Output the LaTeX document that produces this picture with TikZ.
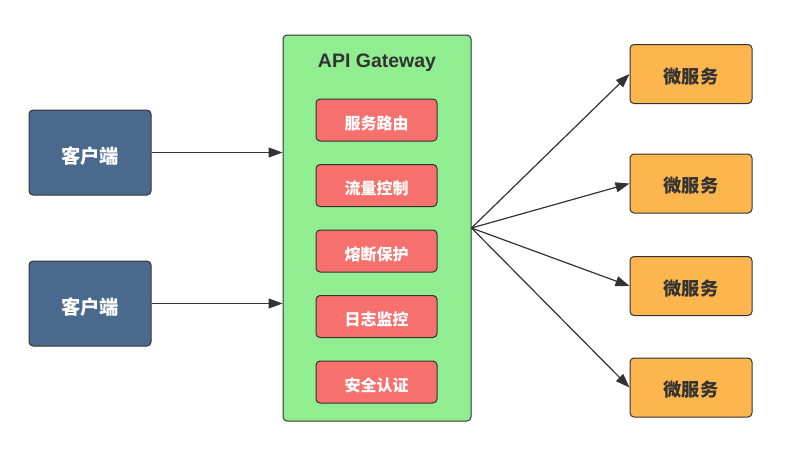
\documentclass[tikz,border=0pt]{standalone}
\usepackage{fontspec}
\setmainfont{Liberation Sans}
\newfontfamily\cjk{Noto Sans CJK SC}
\usetikzlibrary{arrows.meta}
\definecolor{edgegray}{HTML}{333333}
\definecolor{clientblue}{HTML}{4A6A8D}
\definecolor{gatewaygreen}{HTML}{90EE90}
\definecolor{modulered}{HTML}{F6716D}
\definecolor{serviceorange}{HTML}{FDB54D}
\tikzset{
  box/.style={draw=edgegray, line width=1pt, rounded corners=4pt, inner sep=0pt},
  % text height/depth set so the glyphs sit a little below the box centre
  client/.style={box, fill=clientblue, minimum width=122pt, minimum height=85pt,
    text height=22pt, text depth=0pt,
    text=white, font=\cjk\bfseries\fontsize{19.3}{22}\selectfont},
  gateway/.style={box, fill=gatewaygreen, minimum width=188pt, minimum height=386pt},
  module/.style={box, fill=modulered, minimum width=121pt, minimum height=42pt,
    text height=18.5pt, text depth=0pt,
    text=white, font=\cjk\bfseries\fontsize{16}{18}\selectfont},
  service/.style={box, fill=serviceorange, minimum width=122pt, minimum height=59pt,
    text height=18.5pt, text depth=0pt,
    text=edgegray, font=\cjk\bfseries\fontsize{18.2}{20}\selectfont},
  link/.style={draw=edgegray, line width=1.2pt, -{Triangle[length=14pt,width=10pt]}}
}
\begin{document}
\begin{tikzpicture}[x=1pt, y=-1pt]
\useasboundingbox (0,0) rectangle (790,448);

% clients
\node[client] (c1) at (90,152.5) {客户端};
\node[client] (c2) at (90,303.5) {客户端};

% gateway with its modules
\node[gateway] (gw) at (377,228) {};
\node[text=edgegray, font=\bfseries\fontsize{19.5}{22}\selectfont] (gwtitle) at (377,62.5) {API Gateway};
\node[module] (r1) at (376.5,120) {服务路由};
\node[module] (r2) at (376.5,185.5) {流量控制};
\node[module] (r3) at (376.5,251) {熔断保护};
\node[module] (r4) at (376.5,316.5) {日志监控};
\node[module] (r5) at (376.5,382) {安全认证};

% microservices
\node[service] (m1) at (691,74) {微服务};
\node[service] (m2) at (691,183.5) {微服务};
\node[service] (m3) at (691,286) {微服务};
\node[service] (m4) at (691,387.5) {微服务};

% requests into the gateway
\draw[link] (c1.east) -- (c1.east -| gw.west);
\draw[link] (c2.east) -- (c2.east -| gw.west);

% fan-out to the services
\foreach \m in {m1,m2,m3,m4}
  \draw[link] (gw.east) -- (\m.west);
\end{tikzpicture}
\end{document}
